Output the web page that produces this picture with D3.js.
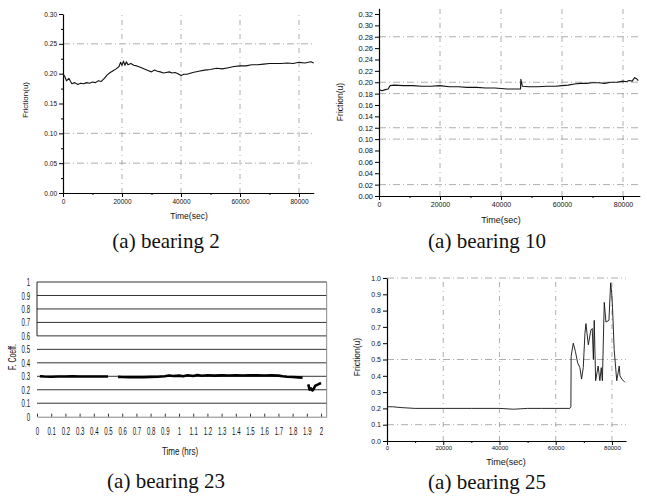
<!DOCTYPE html>
<html>
<head>
<meta charset="utf-8">
<script src="https://cdnjs.cloudflare.com/ajax/libs/d3/7.8.5/d3.min.js"></script>
<style>
  body { margin: 0; background: #fff; }
  svg { display: block; }
  .origin text { font-family: Arial, "Liberation Sans", sans-serif; fill: #111; }
  .excel text { font-family: "Liberation Sans", Arial, sans-serif; fill: #111; }
  .caption { font-family: "Liberation Serif", "Times New Roman", serif; font-size: 21px; fill: #111; }
</style>
</head>
<body>
<div id="chart"></div>
<script>
// ---- data ----

// bearing 2 : friction vs time (sec)
var b2Time = [0, 500, 1200, 2000, 3000, 4000, 5000, 6000, 7000, 8000, 9000, 10000, 11000, 12000, 13000, 14000,
    15000, 16000, 17000, 18000, 19000, 19500, 20000, 20500, 21000, 21500, 22000, 23000, 24000, 25000, 26000,
    27000, 28000, 29000, 30000, 31000, 32000, 33000, 34000, 35000, 36000, 37000, 38000, 39000, 40000, 41000,
    42000, 44000, 46000, 48000, 50000, 52000, 54000, 56000, 58000, 60000, 62000, 64000, 66000, 68000, 70000,
    72000, 74000, 76000, 78000, 80000, 82000, 84000, 85000];
var b2Friction = [0.200, 0.196, 0.188, 0.192, 0.183, 0.185, 0.182, 0.184, 0.183, 0.185, 0.184, 0.186, 0.185, 0.188, 0.187, 0.192,
    0.198, 0.202, 0.205, 0.208, 0.212, 0.219, 0.214, 0.221, 0.214, 0.220, 0.215, 0.217, 0.214, 0.213, 0.211,
    0.209, 0.207, 0.205, 0.203, 0.206, 0.204, 0.203, 0.201, 0.202, 0.203, 0.201, 0.202, 0.200, 0.197, 0.199,
    0.199, 0.202, 0.204, 0.206, 0.207, 0.209, 0.208, 0.210, 0.212, 0.213, 0.213, 0.215, 0.215, 0.216, 0.217,
    0.217, 0.217, 0.218, 0.217, 0.219, 0.218, 0.220, 0.218];

// bearing 10 : friction vs time (sec)
var b10Time = [0, 1000, 2000, 3000, 3600, 5000, 8000, 11000, 14000, 17000, 20000, 23000, 26000, 29000, 32000,
    35000, 38000, 40000, 42000, 44000, 46000, 46400, 46500, 47000, 49000, 52000, 55000, 58000, 60000, 62000,
    64000, 66000, 68000, 70000, 72000, 74000, 76000, 78000, 80000, 81000, 82000, 83000, 83800, 84500, 85000];
var b10Friction = [0.187, 0.185, 0.187, 0.188, 0.194, 0.195, 0.194, 0.194, 0.193, 0.193, 0.194, 0.192, 0.192, 0.191, 0.191,
    0.190, 0.190, 0.189, 0.188, 0.188, 0.188, 0.188, 0.205, 0.193, 0.192, 0.192, 0.193, 0.193, 0.194, 0.195,
    0.197, 0.198, 0.198, 0.199, 0.199, 0.198, 0.200, 0.200, 0.202, 0.201, 0.203, 0.202, 0.208, 0.206, 0.203];

// bearing 23 : friction coefficient vs time (hrs), null = gap in the record
var b23Time = [0.02, 0.05, 0.1, 0.15, 0.2, 0.25, 0.3, 0.35, 0.4, 0.45, 0.5, 0.52, 0.57, 0.6, 0.65, 0.7, 0.75, 0.8,
    0.85, 0.9, 0.93, 0.96, 1.0, 1.03, 1.06, 1.1, 1.13, 1.16, 1.2, 1.25, 1.3, 1.35, 1.4, 1.45, 1.5, 1.55, 1.6,
    1.65, 1.7, 1.73, 1.76, 1.8, 1.84, 1.87, 1.89, 1.91, 1.92, 1.93, 1.94, 1.95, 1.96, 1.98, 2.0];
var b23Coeff = [0.300, 0.298, 0.297, 0.299, 0.298, 0.300, 0.299, 0.298, 0.299, 0.298, 0.299, null, 0.296, 0.295, 0.294, 0.295, 0.294, 0.296,
    0.297, 0.300, 0.306, 0.302, 0.305, 0.300, 0.308, 0.302, 0.309, 0.304, 0.308, 0.305, 0.307, 0.306, 0.308, 0.306, 0.307, 0.307, 0.306,
    0.307, 0.305, 0.300, 0.297, 0.295, 0.292, 0.290, null, 0.240, 0.200, 0.210, 0.195, 0.210, 0.230, 0.240, 0.250];

// bearing 25 : friction vs time (sec)
var b25Time = [0, 2000, 5000, 10000, 20000, 30000, 40000, 45000, 50000, 55000, 60000, 65000, 65400, 65500, 66250,
    67000, 67800, 68600, 69200, 69800, 70400, 70750, 71600, 72500, 73000, 73400, 73700, 74200, 75100, 75700,
    76200, 76600, 77270, 77870, 78930, 79540, 79900, 80200, 80800, 81700, 82600, 82850, 83500, 84620];
var b25Friction = [0.21, 0.21, 0.205, 0.20, 0.20, 0.20, 0.20, 0.195, 0.20, 0.20, 0.20, 0.20, 0.21, 0.52, 0.60,
    0.55, 0.48, 0.45, 0.38, 0.45, 0.66, 0.72, 0.59, 0.68, 0.69, 0.50, 0.74, 0.37, 0.46, 0.37,
    0.45, 0.37, 0.85, 0.73, 0.74, 0.97, 0.91, 0.82, 0.56, 0.37, 0.46, 0.40, 0.38, 0.36];

// tick values
var secTicks = [0, 20000, 40000, 60000, 80000];
var secMinor = [10000, 30000, 50000, 70000];
var b2TicksY = [0, 0.05, 0.10, 0.15, 0.20, 0.25, 0.30];
var b2MinorY = [0.025, 0.075, 0.125, 0.175, 0.225, 0.275];
var b10TicksY = [0, 0.02, 0.04, 0.06, 0.08, 0.10, 0.12, 0.14, 0.16, 0.18, 0.20, 0.22, 0.24, 0.26, 0.28, 0.30, 0.32];
var b25TicksY = [0, 0.1, 0.2, 0.3, 0.4, 0.5, 0.6, 0.7, 0.8, 0.9, 1.0];
var b23TicksX = [0, 0.1, 0.2, 0.3, 0.4, 0.5, 0.6, 0.7, 0.8, 0.9, 1, 1.1, 1.2, 1.3, 1.4, 1.5, 1.6, 1.7, 1.8, 1.9, 2];
var b23TicksY = [0, 0.1, 0.2, 0.3, 0.4, 0.5, 0.6, 0.7, 0.8, 0.9, 1];

// the dash-dot grid lines that survive in the scans
var b2GridY = [0.05, 0.10, 0.25];
var b10GridY = [0.02, 0.10, 0.12, 0.18, 0.20, 0.28];
var b25GridY = [0.1, 0.5, 1.0];

// ---- drawing ----
var width = 647, height = 504;
var svg = d3.select("#chart").append("svg")
    .attr("width", width)
    .attr("height", height);

// squeeze text horizontally (the excel panel uses a very narrow face)
function condense(sel, k){
    sel.each(function(){
        var w = this.getComputedTextLength();
        d3.select(this).attr("textLength", w * k).attr("lengthAdjust", "spacingAndGlyphs");
    });
}

// origin-style plot (panels bearing 2, 10, 25)
function drawOrigin(p){
    var g = svg.append("g").attr("class", "origin");
    var x = d3.scaleLinear().domain(p.xDomain).range(p.xRange);
    var y = d3.scaleLinear().domain(p.yDomain).range(p.yRange);

    // faint dash-dot grid
    g.selectAll(".gx").data(secTicks.slice(1)).enter().append("line")
        .attr("x1", function(d){ return x(d); }).attr("x2", function(d){ return x(d); })
        .attr("y1", p.yRange[0]).attr("y2", p.yRange[1])
        .attr("stroke", "#999").attr("stroke-width", 0.8)
        .attr("stroke-dasharray", "5,4,1,4");
    g.selectAll(".gy").data(p.gridY).enter().append("line")
        .attr("x1", p.xRange[0]).attr("x2", p.xRange[1])
        .attr("y1", function(d){ return y(d); }).attr("y2", function(d){ return y(d); })
        .attr("stroke", "#999").attr("stroke-width", 0.8)
        .attr("stroke-dasharray", "7,3,1,3");

    // axes with minor ticks
    var ax = g.append("g").attr("transform", "translate(0," + p.yRange[0] + ")")
        .call(d3.axisBottom(x).tickValues(secTicks).tickSize(4).tickSizeOuter(0).tickPadding(p.xPad)
            .tickFormat(d3.format("d")));
    ax.selectAll("text").style("font-size", p.xFont + "px");
    g.append("g").attr("transform", "translate(0," + p.yRange[0] + ")")
        .call(d3.axisBottom(x).tickValues(secMinor).tickSize(2).tickFormat(""))
        .select(".domain").remove();

    var ay = g.append("g").attr("transform", "translate(" + p.xRange[0] + ",0)")
        .call(d3.axisLeft(y).tickValues(p.ticksY).tickSize(4).tickSizeOuter(0).tickPadding(2)
            .tickFormat(d3.format(p.yFormat)));
    ay.selectAll("text").style("font-size", p.yFont + "px");
    if (p.minorY){
        g.append("g").attr("transform", "translate(" + p.xRange[0] + ",0)")
            .call(d3.axisLeft(y).tickValues(p.minorY).tickSize(2).tickFormat(""))
            .select(".domain").remove();
    }
    g.selectAll(".domain").attr("stroke-width", 1.2);

    // the friction trace
    var pts = p.time.map(function(t, i){ return [t, p.values[i]]; });
    var line = d3.line()
        .x(function(d){ return x(d[0]); })
        .y(function(d){ return y(d[1]); });
    g.append("path").datum(pts)
        .attr("d", line)
        .attr("fill", "none")
        .attr("stroke", "#111")
        .attr("stroke-width", p.lineWidth)
        .attr("stroke-linejoin", "round");

    // axis titles
    g.append("text")
        .attr("transform", "translate(" + p.yTitleX + "," + p.yTitleY + ") rotate(-90)")
        .attr("text-anchor", "middle")
        .style("font-size", p.titleFont + "px")
        .text("Friction(u)");
    g.append("text")
        .attr("x", p.xTitleX).attr("y", p.xTitleY)
        .attr("text-anchor", "middle")
        .style("font-size", (p.titleFont + 0.5) + "px")
        .text("Time(sec)");

    svg.append("text").attr("class", "caption")
        .attr("x", p.capX).attr("y", p.capY)
        .attr("text-anchor", "middle")
        .text(p.caption);
}

drawOrigin({
    time: b2Time, values: b2Friction, ticksY: b2TicksY, minorY: b2MinorY, gridY: b2GridY,
    xDomain: [0, 85000], xRange: [63, 313.75], yDomain: [0, 0.30], yRange: [193, 14],
    yFormat: ".2f", xFont: 6.5, yFont: 6.5, xPad: 2, titleFont: 8, lineWidth: 1.1,
    yTitleX: 28, yTitleY: 100, xTitleX: 189, xTitleY: 219,
    caption: "(a) bearing 2", capX: 166, capY: 248
});

drawOrigin({
    time: b10Time, values: b10Friction, ticksY: b10TicksY, minorY: null, gridY: b10GridY,
    xDomain: [0, 85500], xRange: [379, 639.8], yDomain: [0, 0.33], yRange: [196, 8.3],
    yFormat: ".2f", xFont: 7, yFont: 7.5, xPad: 2, titleFont: 8.5, lineWidth: 1.1,
    yTitleX: 343, yTitleY: 102, xTitleX: 501, xTitleY: 223,
    caption: "(a) bearing 10", capX: 487, capY: 248
});

drawOrigin({
    time: b25Time, values: b25Friction, ticksY: b25TicksY, minorY: null, gridY: b25GridY,
    xDomain: [0, 85000], xRange: [387, 626], yDomain: [0, 1.0], yRange: [441, 278],
    yFormat: ".1f", xFont: 6, yFont: 7, xPad: 1, titleFont: 8.5, lineWidth: 0.9,
    yTitleX: 360, yTitleY: 357, xTitleX: 506, xTitleY: 465,
    caption: "(a) bearing 25", capX: 487, capY: 489
});

// excel-style plot for bearing 23
(function(){
    var g = svg.append("g").attr("class", "excel");
    var x = d3.scaleLinear().domain([0, 2.04]).range([37, 326.7]);
    var y = d3.scaleLinear().domain([0, 1]).range([416.7, 282]);

    // horizontal grid lines every 0.1
    g.selectAll(".gy").data(b23TicksY.slice(1)).enter().append("line")
        .attr("x1", x(0)).attr("x2", x(2.04))
        .attr("y1", function(d){ return y(d); }).attr("y2", function(d){ return y(d); })
        .attr("stroke", "#333").attr("stroke-width", 1);

    // frame sides
    g.append("line").attr("x1", x(0)).attr("x2", x(0)).attr("y1", y(1)).attr("y2", y(0.6))
        .attr("stroke", "#222").attr("stroke-width", 1);
    g.append("line").attr("x1", x(2.04)).attr("x2", x(2.04)).attr("y1", y(1)).attr("y2", y(0))
        .attr("stroke", "#888").attr("stroke-width", 1);

    // bottom axis with small upward ticks
    var ax = g.append("g").attr("transform", "translate(0," + y(0) + ")")
        .call(d3.axisBottom(x).tickValues(b23TicksX).tickSizeInner(-3).tickSizeOuter(0).tickPadding(11)
            .tickFormat(function(d){ return String(d); }));
    ax.select(".domain").attr("stroke", "#888");
    ax.selectAll(".tick line").attr("stroke", "#333");
    ax.selectAll("text").style("font-size", "11px").call(condense, 0.55);

    var ay = g.append("g").attr("transform", "translate(" + x(0) + ",0)")
        .call(d3.axisLeft(y).tickValues(b23TicksY).tickSize(0).tickPadding(7)
            .tickFormat(function(d){ return String(d); }));
    ay.select(".domain").remove();
    ay.selectAll("text").style("font-size", "11px").call(condense, 0.55);

    // coefficient trace, drawn thick like the scan
    var pts = b23Time.map(function(t, i){ return [t, b23Coeff[i]]; });
    var line = d3.line()
        .defined(function(d){ return d[1] !== null; })
        .x(function(d){ return x(d[0]); })
        .y(function(d){ return y(d[1]); });
    g.append("path").datum(pts)
        .attr("d", line)
        .attr("fill", "none")
        .attr("stroke", "#000")
        .attr("stroke-width", 2.6)
        .attr("stroke-linejoin", "round");

    g.append("text")
        .attr("transform", "translate(16,357) rotate(-90)")
        .attr("text-anchor", "middle")
        .style("font-size", "10px")
        .text("F. Coeff.")
        .call(condense, 0.7);
    g.append("text")
        .attr("x", 180).attr("y", 455)
        .attr("text-anchor", "middle")
        .style("font-size", "10px")
        .text("Time (hrs)")
        .call(condense, 0.8);

    svg.append("text").attr("class", "caption")
        .attr("x", 166).attr("y", 488)
        .attr("text-anchor", "middle")
        .text("(a) bearing 23");
})();
</script>
</body>
</html>
